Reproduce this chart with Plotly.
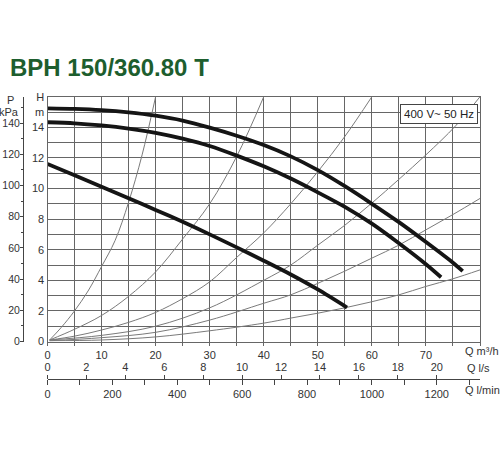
import plotly.graph_objects as go

# pump curves, Q in m3/h, H in m
q_top = [0, 5, 10, 15, 20, 25, 30, 35, 40, 45, 50, 55, 60, 65, 70, 75, 76.8]
h_top = [15.24, 15.2, 15.12, 14.98, 14.76, 14.44, 13.98, 13.45, 12.84, 12.1, 11.2, 10.15, 9.0, 7.8, 6.5, 5.15, 4.6]

q_mid = [0, 5, 10, 15, 20, 25, 30, 35, 40, 45, 50, 55, 60, 65, 70, 72.8]
h_mid = [14.33, 14.26, 14.12, 13.92, 13.64, 13.26, 12.78, 12.15, 11.45, 10.65, 9.75, 8.8, 7.7, 6.42, 5.05, 4.2]

q_low = [0, 5, 10, 15, 20, 25, 30, 35, 40, 45, 50, 55.4]
h_low = [11.6, 10.87, 10.12, 9.36, 8.6, 7.82, 7.0, 6.15, 5.28, 4.38, 3.4, 2.22]

# thin system curves
q_s1 = [0.4, 2.5, 5, 7.5, 10, 12.5, 15, 17.5, 20]
h_s1 = [0.1, 0.9, 2.0, 3.3, 4.9, 6.6, 9.1, 12.2, 16]
q_s2 = [0.4, 5, 10, 15, 20, 25, 30, 35, 40]
h_s2 = [0.1, 0.8, 1.7, 2.95, 4.55, 6.7, 9.0, 12.1, 16]
q_s3 = [0.4, 5, 10, 15, 20, 25, 30, 35, 40, 45, 50, 55, 60]
h_s3 = [0.1, 0.35, 0.75, 1.25, 1.9, 2.8, 3.9, 5.5, 7.1, 9.0, 11.1, 13.4, 16]
q_s4 = [0.4, 10, 20, 30, 40, 45, 50, 55, 60, 65, 70, 75.5, 80]
h_s4 = [0.1, 0.4, 1.0, 2.2, 4.0, 5.0, 6.3, 7.6, 9.05, 10.6, 12.2, 14.1, 16]
q_s5 = [0.4, 10, 20, 30, 40, 45, 50, 55, 60, 65, 70, 75, 80]
h_s5 = [0.05, 0.25, 0.6, 1.4, 2.5, 3.05, 3.8, 4.6, 5.45, 6.3, 7.3, 8.3, 9.35]
q_s6 = [0.4, 10, 20, 30, 40, 45, 50, 55, 60, 65, 70, 75, 80]
h_s6 = [0.05, 0.1, 0.3, 0.7, 1.2, 1.53, 1.85, 2.2, 2.6, 3.05, 3.6, 4.1, 4.68]

h_ticks = list(range(0, 17))
h_labels = ['0', '', '2', '', '4', '', '6', '', '8', '', '10', '', '12', '', '14', 'm', 'H']
q_ticks = list(range(0, 85, 5))
q_labels = ['0', '', '10', '', '20', '', '30', '', '40', '', '50', '', '60', '', '70', '', '']
ls_ticks = [0, 2, 4, 6, 8, 10, 12, 14, 16, 18, 20]
p_ticks = [0, 20, 40, 60, 80, 100, 120, 140]

W, H = 500, 450
x0px, x1px = 47.5, 480
ytop, ybot = 96.7, 341.5
font = 'Liberation Sans, Arial, sans-serif'
grid = '#666666'

fig = go.Figure()

for qs, hs in [(q_s1, h_s1), (q_s2, h_s2), (q_s3, h_s3), (q_s4, h_s4), (q_s5, h_s5), (q_s6, h_s6)]:
    fig.add_trace(go.Scatter(x=qs, y=hs, mode='lines', line=dict(color='#7a7a7a', width=1, shape='spline'),
                             showlegend=False, hoverinfo='skip'))

for qs, hs in [(q_top, h_top), (q_mid, h_mid), (q_low, h_low)]:
    fig.add_trace(go.Scatter(x=qs, y=hs, mode='lines',
                             line=dict(color='#151515', width=3.8, shape='spline', smoothing=0.8),
                             showlegend=False))

# empty traces so the extra scales are drawn
fig.add_trace(go.Scatter(x=[None], y=[None], xaxis='x2', showlegend=False, hoverinfo='skip'))
fig.add_trace(go.Scatter(x=[None], y=[None], xaxis='x3', showlegend=False, hoverinfo='skip'))
fig.add_trace(go.Scatter(x=[None], y=[None], yaxis='y2', showlegend=False, hoverinfo='skip'))

xdom = [x0px / W, x1px / W]
ydom = [(H - ybot) / H, (H - ytop) / H]
bottom_pos = (H - 379) / H

fig.update_layout(
    width=W, height=H,
    margin=dict(l=0, r=0, t=0, b=0),
    paper_bgcolor='white', plot_bgcolor='white',
    font=dict(family=font, size=11, color='#333'),
    title=dict(text='<b>BPH 150/360.80 T</b>', x=0.02, y=1 - 68 / H, xanchor='left', yanchor='middle',
               font=dict(family=font, size=24, color='#1d5e2e')),
    xaxis=dict(domain=xdom, range=[0, 80], tickmode='array', tickvals=q_ticks, ticktext=q_labels,
               showgrid=True, gridcolor=grid, gridwidth=1.2, zeroline=False,
               showline=True, mirror=True, linecolor=grid, linewidth=1.2,
               ticks='outside', ticklen=3, tickcolor=grid, automargin=False),
    yaxis=dict(domain=ydom, range=[0, 16], tickmode='array', tickvals=h_ticks, ticktext=h_labels,
               showgrid=True, gridcolor=grid, gridwidth=1.2, zeroline=False,
               showline=True, mirror=True, linecolor=grid, linewidth=1.2, ticks='', automargin=False),
    xaxis2=dict(overlaying='x', anchor='free', position=bottom_pos, side='top', domain=xdom,
                range=[0, 80 / 3.6], tickmode='array', tickvals=ls_ticks,
                showline=True, linecolor='#444', linewidth=1, showgrid=False, zeroline=False,
                ticks='outside', ticklen=4, tickcolor='#444', automargin=False),
    xaxis3=dict(overlaying='x', anchor='free', position=bottom_pos, side='bottom', domain=xdom,
                range=[0, 80 * 1000 / 60], tick0=0, dtick=200,
                showline=True, linecolor='#444', linewidth=1, showgrid=False, zeroline=False,
                ticks='outside', ticklen=5, tickcolor='#444',
                minor=dict(dtick=100, ticks='outside', ticklen=5, tickcolor='#444'), automargin=False),
    yaxis2=dict(overlaying='y', anchor='free', position=23 / W, side='left',
                range=[0, 16 * 9.81], tickmode='array', tickvals=p_ticks,
                showline=True, linecolor='#444', linewidth=1, showgrid=False, zeroline=False,
                ticks='outside', ticklen=3, tickcolor='#444', ticklabelstandoff=-2,
                tickfont=dict(size=10.5),
                minor=dict(dtick=10, ticks='outside', ticklen=2, tickcolor='#444'), automargin=False),
)

labels = [('P', 10, 100), ('kPa', 9, 112), ('Q m³/h', 482, 351), ('Q l/s', 478, 368), ('Q l/min', 482, 390)]
for txt, px, py in labels:
    fig.add_annotation(text=txt, x=px / W, y=1 - py / H, xref='paper', yref='paper',
                       showarrow=False, xanchor='center', yanchor='middle', font=dict(size=11, color='#333'))

fig.add_annotation(text='400 V~ 50 Hz', x=439 / W, y=1 - 113.5 / H, xref='paper', yref='paper',
                   showarrow=False, xanchor='center', yanchor='middle', bgcolor='white',
                   bordercolor='#444', borderwidth=1, borderpad=3, font=dict(size=11.5, color='#222'))

# the page's default body margin would shift the figure by 8px
fig.write_html('out.html', config={'displayModeBar': False},
               post_script="document.body.style.margin='0px';")
